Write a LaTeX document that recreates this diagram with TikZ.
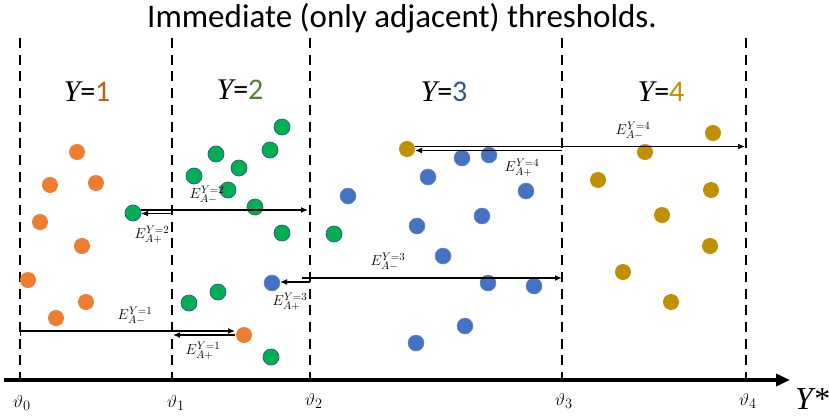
\documentclass[tikz,border=0pt]{standalone}
\usepackage{fontspec}
\setmainfont{Carlito}
\newfontfamily\tnr{Liberation Serif}
\usetikzlibrary{arrows.meta,calc}
\definecolor{dorange}{HTML}{ED7D31}
\definecolor{dgreen}{HTML}{00B050}
\definecolor{dblue}{HTML}{4472C4}
\definecolor{dgold}{HTML}{C09000}
\definecolor{edgeblue}{HTML}{2F5597}
\definecolor{tone}{HTML}{C55A11}
\definecolor{ttwo}{HTML}{548235}
\definecolor{tthree}{HTML}{2F5597}
\definecolor{tfour}{HTML}{BF9000}
\begin{document}
\begin{tikzpicture}[x=1pt,y=-1pt,
  dot/.style={circle,minimum size=16pt,inner sep=0pt},
  od/.style={dot,fill=dorange},
  gd/.style={dot,fill=dgreen,draw=edgeblue,line width=0.7pt},
  bd/.style={dot,fill=dblue,draw=edgeblue!70!white,line width=0.5pt},
  yd/.style={dot,fill=dgold},
  thr/.style={line width=2.5pt,dash pattern=on 10pt off 6.7pt},
  axisline/.style={line width=4pt,-{Triangle[length=14pt,width=12pt]}},
  earrow/.style={line width=1.6pt,-{Latex[length=7pt,width=6pt]}},
  elabel/.style={font=\fontsize{15}{15}\selectfont,inner sep=0pt},
  thlabel/.style={font=\fontsize{19}{19}\selectfont,inner sep=0pt},
  ylabel/.style={font=\fontsize{30}{30}\selectfont,inner sep=0pt}]
\useasboundingbox[fill=white] (0,0) rectangle (830,418);

\node[font=\fontsize{33}{33}\selectfont,inner sep=0pt] (title) at (402,18) {Immediate (only adjacent) thresholds.};

% thresholds
\foreach \n/\x in {0/20,1/172,2/310,3/562,4/746}{
  \coordinate (t\n) at (\x,38);
  \coordinate (b\n) at (\x,380);
}
\foreach \n in {0,...,4}{ \draw[thr] (t\n) -- (b\n); }

% axis
\coordinate (axs) at (4,380);
\coordinate (axe) at (790,380);
\draw[axisline] (axs) -- (axe);

\node[thlabel] (v0) at (22,403) {$\vartheta_0$};
\node[thlabel] (v1) at (176,403) {$\vartheta_1$};
\node[thlabel] (v2) at (314,401) {$\vartheta_2$};
\node[thlabel] (v3) at (564,401) {$\vartheta_3$};
\node[thlabel] (v4) at (748,401) {$\vartheta_4$};
\node[font=\fontsize{32}{32}\selectfont\tnr\itshape,inner sep=0pt] (ystar) at (812,399) {Y*};

% class labels
\node[ylabel] (c1) at (87,92) {{\tnr\itshape Y}=\textcolor{tone}{1}};
\node[ylabel] (c2) at (240,90) {{\tnr\itshape Y}=\textcolor{ttwo}{2}};
\node[ylabel] (c3) at (444,92) {{\tnr\itshape Y}=\textcolor{tthree}{3}};
\node[ylabel] (c4) at (661,92) {{\tnr\itshape Y}=\textcolor{tfour}{4}};

% orange dots
\node[od] (o1) at (77,152) {};
\node[od] (o2) at (50,185) {};
\node[od] (o3) at (96,183) {};
\node[od] (o4) at (40,222) {};
\node[od] (o5) at (82,246) {};
\node[od] (o6) at (28,280) {};
\node[od] (o7) at (86,302) {};
\node[od] (o8) at (56,318) {};
\node[od] (o9) at (244,335) {};
% green dots
\node[gd] (g1) at (133,213) {};
\node[gd] (g2) at (194,176) {};
\node[gd] (g3) at (216,154) {};
\node[gd] (g4) at (239,168) {};
\node[gd] (g5) at (228,190) {};
\node[gd] (g6) at (255,207) {};
\node[gd] (g7) at (270,150) {};
\node[gd] (g8) at (282,127) {};
\node[gd] (g9) at (282,233) {};
\node[gd] (g10) at (189,303) {};
\node[gd] (g11) at (218,292) {};
\node[gd] (g12) at (271,357) {};
\node[gd] (g13) at (334,234) {};
% blue dots
\node[bd] (u1) at (272,283) {};
\node[bd] (u2) at (348,196) {};
\node[bd] (u3) at (428,177) {};
\node[bd] (u4) at (462,158) {};
\node[bd] (u5) at (489,155) {};
\node[bd] (u6) at (526,191) {};
\node[bd] (u7) at (482,216) {};
\node[bd] (u8) at (417,226) {};
\node[bd] (u9) at (443,256) {};
\node[bd] (u10) at (488,283) {};
\node[bd] (u11) at (534,286) {};
\node[bd] (u12) at (465,326) {};
\node[bd] (u13) at (416,343) {};
% gold dots
\node[yd] (y1) at (407,149) {};
\node[yd] (y2) at (713,133) {};
\node[yd] (y3) at (645,152) {};
\node[yd] (y4) at (598,180) {};
\node[yd] (y5) at (711,190) {};
\node[yd] (y6) at (662,215) {};
\node[yd] (y7) at (710,246) {};
\node[yd] (y8) at (623,272) {};
\node[yd] (y9) at (671,302) {};

% E arrows, Y=1
\coordinate (a1s) at (20,331);
\coordinate (a1e) at (235,331);
\draw[earrow,line width=1.3pt,{Bar[width=10pt]}-{Latex[length=7pt,width=6pt]}] (a1s) -- (a1e);
\coordinate (p1s) at (235,335);
\coordinate (p1e) at (173,335);
\draw[earrow,line width=1.3pt] (p1s) -- (p1e);
\node[elabel] (e1m) at (135,316) {$E^{Y=1}_{A-}$};
\node[elabel] (e1p) at (203,351) {$E^{Y=1}_{A+}$};

% Y=2
\coordinate (a2s) at (141,210);
\coordinate (a2e) at (308,210);
\draw[earrow,line width=2pt] (a2s) -- (a2e);
\coordinate (p2s) at (172,213.5);
\coordinate (p2e) at (141,213.5);
\draw[earrow] (p2s) -- (p2e);
\node[elabel] (e2m) at (207,195) {$E^{Y=2}_{A-}$};
\node[elabel] (e2p) at (152,235) {$E^{Y=2}_{A+}$};

% Y=3
\coordinate (a3s) at (302,278);
\coordinate (a3e) at (562,278);
\draw[earrow] (a3s) -- (a3e);
\coordinate (p3s) at (310,282);
\coordinate (p3e) at (280,282);
\draw[earrow] (p3s) -- (p3e);
\node[elabel] (e3m) at (388,262) {$E^{Y=3}_{A-}$};
\node[elabel] (e3p) at (290,302) {$E^{Y=3}_{A+}$};

% Y=4
\coordinate (a4s) at (415,146.5);
\coordinate (a4e) at (745,146.5);
\draw[earrow] (a4s) -- (a4e);
\coordinate (p4s) at (562,150.5);
\coordinate (p4e) at (415,150.5);
\draw[earrow] (p4s) -- (p4e);
\node[elabel] (e4m) at (633,131) {$E^{Y=4}_{A-}$};
\node[elabel] (e4p) at (522,168) {$E^{Y=4}_{A+}$};
\end{tikzpicture}
\end{document}
